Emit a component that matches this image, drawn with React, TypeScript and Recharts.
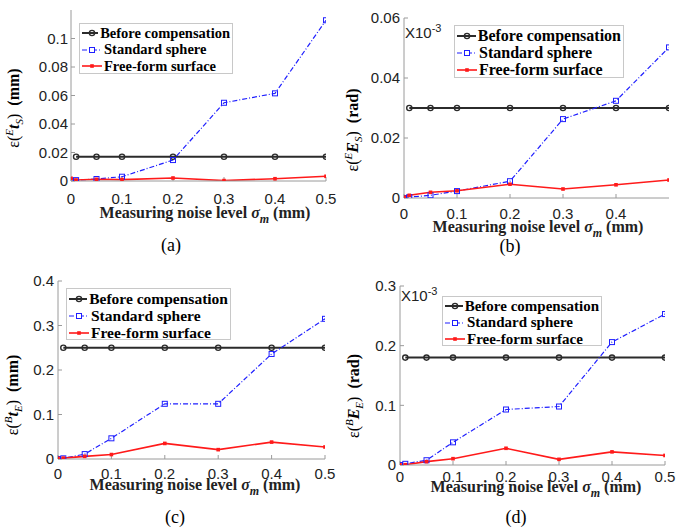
import React from 'react';
import { LineChart, Line, XAxis, YAxis } from 'recharts';

// noise levels (mm)
const xBefore = [0.01, 0.05, 0.1, 0.2, 0.3, 0.4, 0.5];
const xNoise = [0, 0.01, 0.05, 0.1, 0.2, 0.3, 0.4, 0.5];

const seriesNames = ['Before compensation', 'Standard sphere', 'Free-form surface'];

// (a) eps(E t_S), mm
const beforeA = [0.017, 0.017, 0.017, 0.017, 0.017, 0.017, 0.017];
const sphereA = [0.0004, 0.0006, 0.0014, 0.003, 0.0147, 0.0549, 0.0615, 0.1128];
const freeA = [0.0019, 0.0007, 0.0012, 0.001, 0.0021, 0.0003, 0.0016, 0.0033];

// (b) eps(E E_S), rad
const beforeB = [0.03, 0.03, 0.03, 0.03, 0.03, 0.03, 0.03];
const sphereB = [0, 0.0003, 0.0009, 0.0023, 0.0056, 0.0263, 0.0324, 0.0502];
const freeB = [0.0003, 0.0009, 0.0019, 0.0024, 0.0046, 0.003, 0.0044, 0.006];

// (c) eps(B t_E), mm
const beforeC = [0.25, 0.25, 0.25, 0.25, 0.25, 0.25, 0.25];
const sphereC = [0, 0.0015, 0.011, 0.0465, 0.124, 0.124, 0.236, 0.315];
const freeC = [0.0015, 0.002, 0.006, 0.01, 0.035, 0.021, 0.038, 0.027];

// (d) eps(B E_E), rad
const beforeD = [0.18, 0.18, 0.18, 0.18, 0.18, 0.18, 0.18];
const sphereD = [0, 0.002, 0.008, 0.038, 0.093, 0.098, 0.206, 0.253];
const freeD = [0.0005, 0.0005, 0.0056, 0.0106, 0.028, 0.0095, 0.022, 0.016];

const xTicksFull = [0, 0.1, 0.2, 0.3, 0.4, 0.5];
const xTicksShort = [0, 0.1, 0.2, 0.3, 0.4];
const yTicksA = [0, 0.02, 0.04, 0.06, 0.08, 0.1];
const yTicksB = [0, 0.02, 0.04, 0.06];
const yTicksC = [0, 0.1, 0.2, 0.3, 0.4];
const yTicksD = [0, 0.1, 0.2, 0.3];

const zip = (xs: number[], ys: number[]) => xs.map((x, i) => ({ x, y: ys[i] }));

const BLACK = '#2b2b2b';
const BLUE = '#1f1fff';
const RED = '#ff1a1a';
const SERIF = '"Liberation Serif", "Times New Roman", serif';
const SANS = '"Liberation Sans", Arial, sans-serif';

const circleDot = (p: any) => (
  <circle key={`c-${p.index}`} cx={p.cx} cy={p.cy} r={2.6} fill="none" stroke={BLACK} strokeWidth={1.4} />
);
const openSquare = (p: any) => (
  <rect key={`s-${p.index}`} x={p.cx - 2.5} y={p.cy - 2.5} width={5} height={5} fill="none" stroke={BLUE} strokeWidth={1} />
);
const filledSquare = (p: any) => (
  <rect key={`f-${p.index}`} x={p.cx - 1.8} y={p.cy - 1.8} width={3.6} height={3.6} fill={RED} />
);

const fmt = (v: number) => String(Number(v.toFixed(3)));

function Sample({ kind }: { kind: number }) {
  return (
    <svg width={20} height={10} style={{ display: 'block', marginRight: 2 }}>
      {kind === 0 && (
        <>
          <line x1={0} y1={5} x2={20} y2={5} stroke={BLACK} strokeWidth={2} />
          <circle cx={10} cy={5} r={2.6} fill="none" stroke={BLACK} strokeWidth={1.4} />
        </>
      )}
      {kind === 1 && (
        <>
          <line x1={0} y1={5} x2={20} y2={5} stroke={BLUE} strokeWidth={1.2} strokeDasharray="5 2 1 2" />
          <rect x={7.5} y={2.5} width={5} height={5} fill="#fff" stroke={BLUE} strokeWidth={1} />
        </>
      )}
      {kind === 2 && (
        <>
          <line x1={0} y1={5} x2={20} y2={5} stroke={RED} strokeWidth={1.6} />
          <rect x={8.2} y={3.2} width={3.6} height={3.6} fill={RED} />
        </>
      )}
    </svg>
  );
}

type PanelProps = {
  left: number; top: number; width: number; height: number;
  margin: { top: number; right: number; left: number; bottom: number };
  yAxisWidth: number; xAxisHeight: number;
  before: number[]; sphere: number[]; free: number[];
  yMax: number; yTicks: number[]; xTicks: number[];
  xTickMargin: number; yTickMargin: number;
  yLabel: React.ReactNode; yLabelPos: [number, number];
  xLabelPos: [number, number];
  caption: string; captionPos: [number, number];
  legendBox: { x: number; y: number; w: number; h: number; font: number; row: number };
  note?: [number, number];
};

function Panel(p: PanelProps) {
  const tickStyle = { fontFamily: SANS, fontSize: 15, fill: '#222' };
  return (
    <div style={{ position: 'absolute', left: p.left, top: p.top, width: p.width, height: p.height }}>
      <LineChart width={p.width} height={p.height} margin={p.margin}>
        <XAxis
          type="number"
          dataKey="x"
          domain={[0, 0.5]}
          ticks={p.xTicks}
          allowDataOverflow
          tickFormatter={fmt}
          height={p.xAxisHeight}
          stroke="#9a9a9a"
          tickSize={-4}
          tickMargin={p.xTickMargin}
          tick={tickStyle}
        />
        <XAxis xAxisId="top" type="number" dataKey="x" domain={[0, 0.5]} orientation="top" height={0} tick={false} tickLine={false} stroke="#9a9a9a" />
        <YAxis
          type="number"
          domain={[0, p.yMax]}
          ticks={p.yTicks}
          allowDataOverflow
          tickFormatter={fmt}
          width={p.yAxisWidth}
          stroke="#9a9a9a"
          tickSize={-4}
          tickMargin={p.yTickMargin}
          tick={tickStyle}
          interval={0}
        />
        <YAxis yAxisId="right" type="number" domain={[0, p.yMax]} orientation="right" width={0} tick={false} tickLine={false} stroke="#9a9a9a" />
        <Line data={zip(xBefore, p.before)} dataKey="y" name={seriesNames[0]} stroke={BLACK} strokeWidth={2} dot={circleDot} isAnimationActive={false} />
        <Line data={zip(xNoise, p.sphere)} dataKey="y" name={seriesNames[1]} stroke={BLUE} strokeWidth={1.2} strokeDasharray="5 2 1 2" dot={openSquare} isAnimationActive={false} />
        <Line data={zip(xNoise, p.free)} dataKey="y" name={seriesNames[2]} stroke={RED} strokeWidth={1.6} dot={filledSquare} isAnimationActive={false} />
      </LineChart>

      {/* legend */}
      <div
        style={{
          position: 'absolute', left: p.legendBox.x, top: p.legendBox.y, width: p.legendBox.w, height: p.legendBox.h,
          background: '#fff', border: '1px solid #c8c8c8', boxSizing: 'border-box', padding: '1px 2px',
          fontFamily: SERIF, fontWeight: 'bold', fontSize: p.legendBox.font, color: '#000',
        }}
      >
        {seriesNames.map((n, i) => (
          <div key={n} style={{ display: 'flex', alignItems: 'center', height: p.legendBox.row, whiteSpace: 'nowrap' }}>
            <Sample kind={i} />
            <span>{n}</span>
          </div>
        ))}
      </div>

      {p.note && (
        <div style={{ position: 'absolute', left: p.note[0], top: p.note[1], fontFamily: SANS, fontSize: 15, color: '#222', lineHeight: 1 }}>
          X10<sup style={{ fontSize: 11 }}>-3</sup>
        </div>
      )}

      {/* y label */}
      <div
        style={{
          position: 'absolute', left: p.yLabelPos[0], top: p.yLabelPos[1], transform: 'translate(-50%, -50%) rotate(-90deg)',
          fontFamily: SERIF, fontSize: 16, whiteSpace: 'nowrap', color: '#000', lineHeight: 1,
        }}
      >
        {p.yLabel}
      </div>

      {/* x label */}
      <div
        style={{
          position: 'absolute', left: p.xLabelPos[0], top: p.xLabelPos[1], transform: 'translate(-50%, -50%)',
          fontFamily: SERIF, fontWeight: 'bold', fontSize: 16, whiteSpace: 'nowrap', color: '#222', lineHeight: 1,
        }}
      >
        Measuring noise level <i>σ</i>
        <sub style={{ fontSize: 12 }}><i>m</i></sub> (mm)
      </div>

      <div
        style={{
          position: 'absolute', left: p.captionPos[0], top: p.captionPos[1], transform: 'translate(-50%, -50%)',
          fontFamily: SERIF, fontSize: 18, color: '#000', lineHeight: 1,
        }}
      >
        {p.caption}
      </div>
    </div>
  );
}

function YLab({ sup, base, sub, unit }: { sup: string; base: string; sub: string; unit: string }) {
  return (
    <span>
      ε(<sup style={{ fontSize: 11 }}><i>{sup}</i></sup>
      <b><i>{base}</i></b>
      <sub style={{ fontSize: 11 }}><i>{sub}</i></sub>)&nbsp;&nbsp;<b>{unit}</b>
    </span>
  );
}

export default function App() {
  return (
    <div style={{ position: 'absolute', left: 0, top: 0, width: 686, height: 527, background: '#fff', overflow: 'hidden' }}>
      <Panel
        left={0} top={0} width={343} height={263}
        margin={{ top: 10, right: 17, left: 0, bottom: 0 }}
        yAxisWidth={71} xAxisHeight={82}
        before={beforeA} sphere={sphereA} free={freeA}
        yMax={0.12} yTicks={yTicksA} xTicks={xTicksFull}
        xTickMargin={16} yTickMargin={7}
        yLabel={<YLab sup="E" base="t" sub="S" unit="(mm)" />}
        yLabelPos={[15, 108]}
        xLabelPos={[205, 215]}
        caption="(a)" captionPos={[171, 245]}
        legendBox={{ x: 79, y: 23, w: 154, h: 51, font: 14.5, row: 16.5 }}
      />
      <Panel
        left={343} top={0} width={343} height={263}
        margin={{ top: 18, right: 17, left: 0, bottom: 0 }}
        yAxisWidth={61} xAxisHeight={65}
        before={beforeB} sphere={sphereB} free={freeB}
        yMax={0.06} yTicks={yTicksB} xTicks={xTicksShort}
        xTickMargin={14} yTickMargin={8}
        yLabel={<YLab sup="E" base="E" sub="S" unit="(rad)" />}
        yLabelPos={[11, 130]}
        xLabelPos={[195, 229]}
        caption="(b)" captionPos={[167, 246]}
        legendBox={{ x: 111, y: 25, w: 170, h: 53, font: 16, row: 17 }}
        note={[62, 23]}
      />
      <Panel
        left={0} top={263} width={343} height={264}
        margin={{ top: 18, right: 18, left: 0, bottom: 0 }}
        yAxisWidth={58} xAxisHeight={68}
        before={beforeC} sphere={sphereC} free={freeC}
        yMax={0.4} yTicks={yTicksC} xTicks={xTicksFull}
        xTickMargin={13} yTickMargin={8}
        yLabel={<YLab sup="B" base="t" sub="E" unit="(mm)" />}
        yLabelPos={[14, 132]}
        xLabelPos={[195, 224]}
        caption="(c)" captionPos={[175, 254]}
        legendBox={{ x: 66, y: 25, w: 165, h: 52, font: 15.5, row: 17 }}
      />
      <Panel
        left={343} top={263} width={343} height={264}
        margin={{ top: 23, right: 21, left: 0, bottom: 0 }}
        yAxisWidth={57} xAxisHeight={62}
        before={beforeD} sphere={sphereD} free={freeD}
        yMax={0.3} yTicks={yTicksD} xTicks={xTicksFull}
        xTickMargin={10} yTickMargin={8}
        yLabel={<YLab sup="B" base="E" sub="E" unit="(rad)" />}
        yLabelPos={[12, 133]}
        xLabelPos={[193, 226]}
        caption="(d)" captionPos={[173, 254]}
        legendBox={{ x: 99, y: 33, w: 160, h: 50, font: 15, row: 16.5 }}
        note={[58, 23]}
      />
    </div>
  );
}
